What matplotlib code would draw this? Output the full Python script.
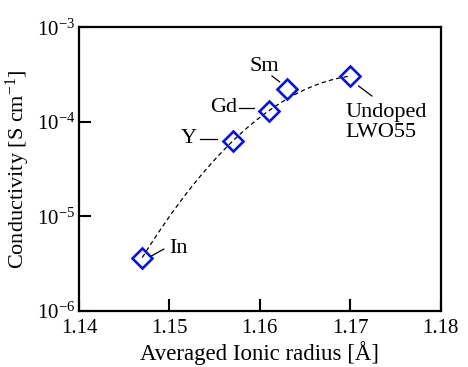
import numpy as np
import matplotlib
matplotlib.use("Agg")
import matplotlib.pyplot as plt
from matplotlib.transforms import ScaledTranslation

# data
dopants = ["In", "Y", "Gd", "Sm", "Undoped\nLWO55"]
radius = [1.147, 1.157, 1.161, 1.163, 1.170]
conductivity = [3.65e-6, 6.3e-5, 1.30e-4, 2.25e-4, 3.05e-4]

x_ticks = [1.14, 1.15, 1.16, 1.17, 1.18]
x_tick_labels = ["1.14", "1.15", "1.16", "1.17", "1.18"]
y_ticks = [1e-6, 1e-5, 1e-4, 1e-3]
y_tick_labels = [r"$10^{-6}$", r"$10^{-5}$", r"$10^{-4}$", r"$10^{-3}$"]

plt.rcParams["font.family"] = ["Liberation Serif", "DejaVu Serif"]
plt.rcParams["mathtext.fontset"] = "custom"
plt.rcParams["mathtext.rm"] = "Liberation Serif"
plt.rcParams["mathtext.it"] = "Liberation Serif:italic"
plt.rcParams["font.size"] = 15

fig = plt.figure(figsize=(4.68, 3.67), dpi=100)
ax = fig.add_axes([0.1688, 0.1534, 0.7729, 0.7722])

# dashed guide: quadratic fit in log space (Sm left out, it sits above the line)
fit_idx = [0, 1, 2, 4]
coef = np.polyfit([radius[i] for i in fit_idx],
                  np.log10([conductivity[i] for i in fit_idx]), 2)
xs = np.linspace(radius[0], radius[-1], 200)
ax.plot(xs, 10 ** np.polyval(coef, xs), color="black", lw=0.9,
        ls=(0, (3.5, 2.5)), zorder=2)

ax.plot(radius, conductivity, ls="none", marker="D", ms=10.5,
        mfc="none", mec="#0a14d2", mew=1.9, zorder=3)

# label placement, in pixels relative to the marker centre (y down):
# leader line start, leader line end, text anchor, alignment
label_pos = {
    "In": ((8, -1), (21.5, -8.5), (27, -9), "left"),
    "Y": ((-33, -1.5), (-15.5, -1.5), (-36, -2), "right"),
    "Gd": ((-30, -3.3), (-15, -3.3), (-32, -3.3), "right"),
    "Sm": ((-15, -12.5), (-7.3, -6.6), (-23, -22), "center"),
    "Undoped\nLWO55": ((8.3, 10), (21.7, 20), (-5, 46.5), "left"),
}
px = 1.0 / fig.dpi
for name, xv, yv in zip(dopants, radius, conductivity):
    p0, p1, pt, ha = label_pos[name]
    tr = fig.dpi_scale_trans + ScaledTranslation(xv, yv, ax.transData)
    ax.plot([p0[0] * px, p1[0] * px], [-p0[1] * px, -p1[1] * px],
            color="black", lw=0.9, transform=tr, zorder=2)
    ax.text(pt[0] * px, -pt[1] * px, name, transform=tr, ha=ha,
            va="center", fontsize=16, linespacing=1.05)

ax.set_yscale("log")
ax.set_xlim(1.14, 1.18)
ax.set_ylim(1e-6, 1e-3)
ax.set_xticks(x_ticks)
ax.set_xticklabels(x_tick_labels)
ax.set_yticks(y_ticks)
ax.set_yticklabels(y_tick_labels)
ax.minorticks_off()
ax.tick_params(direction="in", length=8.5, width=1.5, pad=6,
               top=False, right=False, labelsize=15)
ax.tick_params(axis="y", pad=3)
for s in ax.spines.values():
    s.set_linewidth(1.6)

ax.set_xlabel("Averaged Ionic radius [Å]", fontsize=16.5, labelpad=2)
ax.set_ylabel(r"Conductivity [S cm$^{-1}$]", fontsize=16)
ax.yaxis.set_label_coords(-0.13, 0.5)

fig.savefig("out.png", dpi=100)
